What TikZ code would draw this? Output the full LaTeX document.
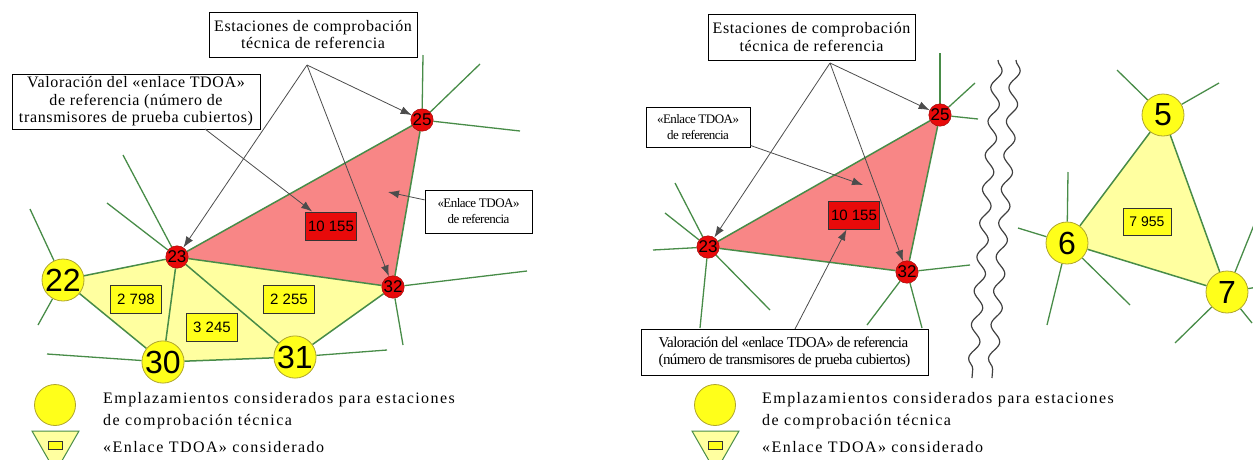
\documentclass[tikz,border=0pt]{standalone}
\usepackage{fontspec}
\setmainfont{Liberation Serif}
\setsansfont{Liberation Sans}
\newfontfamily\notefont[LetterSpace=4]{Liberation Serif}
\newfontfamily\widefont[LetterSpace=9]{Liberation Serif}
\newfontfamily\tightfont[LetterSpace=-4]{Liberation Serif}
\usetikzlibrary{arrows.meta,backgrounds,decorations.pathmorphing}
\definecolor{lnkgreen}{RGB}{72,140,72}
\definecolor{refpink}{RGB}{248,134,134}
\definecolor{lnkyellow}{RGB}{255,255,160}
\definecolor{stred}{RGB}{232,10,10}
\definecolor{styellow}{RGB}{255,255,26}
\definecolor{sitedge}{RGB}{175,165,45}
\newcommand{\clrref}{refpink}
\newcommand{\clrlnk}{lnkyellow}
\newcommand{\fsz}[2]{\fontsize{#1}{#2}\selectfont}
\tikzset{
  refst/.style={circle,fill=stred,draw=stred!70!black,line width=0.5pt,minimum size=22pt,inner sep=0pt,font=\sffamily\fsz{17}{17}},
  site/.style={circle,fill=styellow,draw=sitedge,line width=0.8pt,minimum size=42pt,inner sep=0pt,font=\sffamily\fsz{32}{32}},
  count/.style={draw=black!80,line width=1pt,fill=styellow,minimum width=51pt,minimum height=28pt,inner sep=0pt,font=\sffamily\fsz{15}{15}},
  refcount/.style={count,fill=stred},
  note/.style={draw,fill=white,line width=0.9pt,align=center,inner sep=2pt,font=\notefont\fsz{16}{17.5}},
  link/.style={lnkgreen,line width=1.5pt},
  spoke/.style={lnkgreen,line width=1.3pt},
  pointer/.style={draw=black!70,line width=0.8pt,-{Latex[length=11pt,width=8pt]}},
  wave/.style={decorate,decoration={snake,amplitude=5pt,segment length=34pt},black!75,line width=1.2pt},
  legend/.style={anchor=base west,inner sep=0pt,font=\widefont\fsz{16}{16}}
}

\begin{document}
\begin{tikzpicture}[x=1pt,y=-1pt]
    \useasboundingbox (0,0) rectangle (1253,459);
    \clip (0,0) rectangle (1253,459);

%%%%        Stations, left
    \node[refst] (L25) at (422,120) {25};
    \node[refst] (L23) at (177,257) {23};
    \node[refst] (L32) at (393,287) {32};
    \node[site] (L22) at (63,280) {22};
    \node[site] (L30) at (163,362) {30};
    \node[site] (L31) at (295,357) {31};
%%%%        Stations, right
    \node[refst] (R25) at (940,115) {25};
    \node[refst] (R23) at (708,247) {23};
    \node[refst] (R32) at (907,272) {32};
    \node[site] (R5) at (1163,115) {5};
    \node[site] (R6) at (1067,243) {6};
    \node[site] (R7) at (1227,292) {7};

%%%%        Counts
    \node[count] (c2798) at (136,299) {2 798};
    \node[count] (c3245) at (212,327) {3 245};
    \node[count] (c2255) at (289,299) {2 255};
    \node[refcount] (cL10155) at (331,226) {10 155};
    \node[refcount] (cR10155) at (854,215) {10 155};
    \node[count,minimum width=48pt,minimum height=27pt,font=\sffamily\fsz{14}{14}] (c7955) at (1147,222) {7 955};

%%%%        Spoke ends
    \foreach\n/\x/\y in {s25a/423/55,s25b/480/64,s25c/520/131,s32a/527/271,s32b/403/345,
        s23a/123/155,s23b/107/203,s22a/30/209,s22b/38/325,s30a/47/354,s31a/387/350,
        t25a/940/53,t25b/975/83,t25c/978/119,t23a/675/183,t23b/665/213,t23c/653/250,
        t23d/700/328,t23e/770/310,t32a/970/265,t32b/867/325,t32c/922/328,
        t5a/1117/70,t5b/1219/83,t6a/1068/172,t6b/1018/228,t6c/1130/305,t6d/1047/325,
        t7a/1258/215,t7b/1258/287,t7c/1175/343,t7d/1252/323} {
        \coordinate (\n) at (\x,\y);
    }

%%%%        Links
    \begin{scope}[on background layer]
        \fill[\clrlnk] (L22.center) -- (L23.center) -- (L32.center) -- (L31.center) -- (L30.center) -- cycle;
        \fill[\clrref] (L23.center) -- (L25.center) -- (L32.center) -- cycle;
        \fill[\clrref] (R23.center) -- (R25.center) -- (R32.center) -- cycle;
        \fill[\clrlnk] (R5.center) -- (R6.center) -- (R7.center) -- cycle;
        \foreach\v/\w in {L22/L23,L23/L25,L25/L32,L32/L23,L23/L30,L23/L31,L22/L30,L30/L31,L31/L32,
            R23/R25,R25/R32,R32/R23,R5/R6,R6/R7,R7/R5}
        {
            \draw[link] (\v) -- (\w);
        }
        \foreach\v/\w in {L25/s25a,L25/s25b,L25/s25c,L32/s32a,L32/s32b,L23/s23a,L23/s23b,
            L22/s22a,L22/s22b,L30/s30a,L31/s31a,
            R25/t25a,R25/t25b,R25/t25c,R23/t23a,R23/t23b,R23/t23c,R23/t23d,R23/t23e,
            R32/t32a,R32/t32b,R32/t32c,R5/t5a,R5/t5b,R6/t6a,R6/t6b,R6/t6c,R6/t6d,
            R7/t7a,R7/t7b,R7/t7c,R7/t7d}
        {
            \draw[spoke] (\v) -- (\w);
        }
    \end{scope}

%%%%        Break
    \draw[wave] (998,60) -- (972,378);
    \draw[wave] (1016,60) -- (992,378);

%%%%        Notes, left
    \node[note,minimum width=208pt,minimum height=45pt] (estL) at (313,34.5) {Estaciones de comprobación\\ técnica de referencia};
    \node[note,minimum width=248pt,minimum height=55pt] (valL) at (136,101.5) {Valoración del «enlace TDOA»\\de referencia (número de\\transmisores de prueba cubiertos)};
    \node[note,minimum width=107pt,minimum height=43pt,font=\tightfont\fsz{13}{16}] (enlL) at (478.5,211.5) {«Enlace TDOA»\\de referencia};
    \coordinate (estLfoot) at (307,65);
    \coordinate (valLfoot) at (205,129);
    \coordinate (enlLtip) at (388,192);
%%%%        Notes, right
    \node[note,minimum width=207pt,minimum height=46pt] (estR) at (811.5,37) {Estaciones de comprobación\\ técnica de referencia};
    \node[note,minimum width=104pt,minimum height=40pt,font=\tightfont\fsz{13}{16}] (enlR) at (698,127) {«Enlace TDOA»\\de referencia};
    \node[note,minimum width=287pt,minimum height=46pt,align=left,font=\tightfont\fsz{15}{17}] (valR) at (784.5,352) {Valoración del «enlace TDOA» de referencia\\(número de transmisores de prueba cubiertos)};
    \coordinate (estRfoot) at (830,63);
    \coordinate (enlRtip) at (863,185);
    \coordinate (valRtop) at (795,329);

%%%%        Arrows
    \foreach\v/\w in {estLfoot/L25,estLfoot/L23,estLfoot/L32,valLfoot/cL10155,enlL/enlLtip,
        estRfoot/R25,estRfoot/R23,estRfoot/R32,enlR/enlRtip,valRtop/cR10155}
    {
        \draw[pointer] (\v) -- (\w);
    }

%%%%        Legend
    \node[site,minimum size=41pt] (keyL) at (55,405) {};
    \filldraw[fill=\clrlnk,draw=lnkgreen,line width=1pt] (32,431) -- (79,431) -- (55.5,472) -- cycle;
    \node[count,minimum width=14pt,minimum height=8pt,line width=0.8pt] (keyLbox) at (55,445) {};
    \node[legend] (txtL1) at (103,403) {Emplazamientos considerados para estaciones};
    \node[legend] (txtL2) at (103,425) {de comprobación técnica};
    \node[legend] (txtL3) at (103,452) {«Enlace TDOA» considerado};

    \node[site,minimum size=41pt] (keyR) at (715,405) {};
    \filldraw[fill=\clrlnk,draw=lnkgreen,line width=1pt] (692,431) -- (739,431) -- (715.5,472) -- cycle;
    \node[count,minimum width=14pt,minimum height=8pt,line width=0.8pt] (keyRbox) at (715,445) {};
    \node[legend] (txtR1) at (762,403) {Emplazamientos considerados para estaciones};
    \node[legend] (txtR2) at (762,425) {de comprobación técnica};
    \node[legend] (txtR3) at (762,452) {«Enlace TDOA» considerado};
\end{tikzpicture}
\end{document}
